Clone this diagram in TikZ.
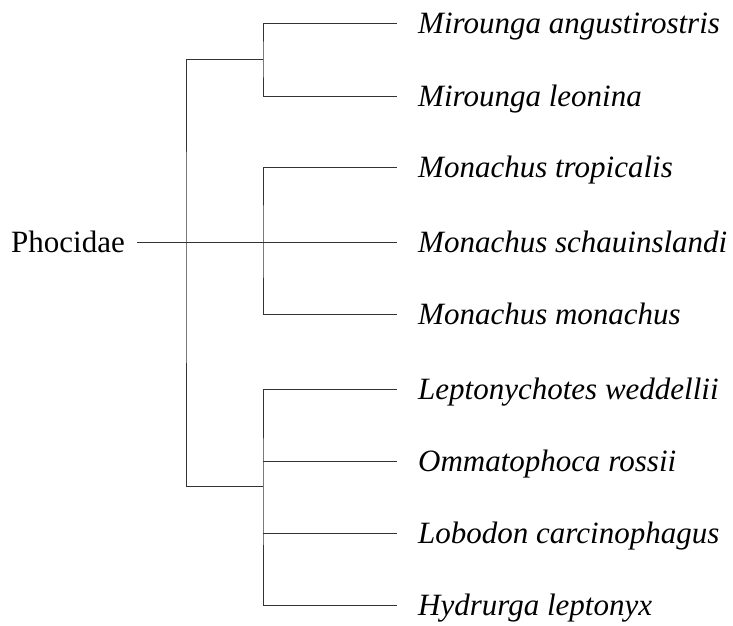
\documentclass[tikz,border=0pt]{standalone}
\usepackage{fontspec}
\setmainfont{Liberation Serif}
\usetikzlibrary{positioning}

\tikzset{
  branch/.style={line width=1pt, black!80},
  taxon/.style={font=\fontsize{31}{33}\selectfont\itshape, inner sep=0pt,
    text height=27.5pt, text depth=7pt},
  family/.style={font=\fontsize{31}{33}\selectfont, inner sep=0pt,
    text height=27.5pt, text depth=7pt},
}

\begin{document}
\begin{tikzpicture}[x=1pt,y=-1pt]

  \useasboundingbox (0,0) rectangle (733,625);

  % 分岐点
  \coordinate (root) at (186,242);
  \coordinate (mir) at (263,59);  % Mirounga
  \coordinate (mon) at (263,242); % Monachus
  \coordinate (lob) at (263,486); % Lobodontini

  % 枝の末端
  \coordinate (base) at (137,242);
  \coordinate (t1) at (397,23);
  \coordinate (t2) at (397,96);
  \coordinate (t3) at (397,167);
  \coordinate (t4) at (397,242);
  \coordinate (t5) at (397,314);
  \coordinate (t6) at (397,389);
  \coordinate (t7) at (397,461);
  \coordinate (t8) at (397,533);
  \coordinate (t9) at (397,605);

  % 科名
  \node[family, left=12pt of base] (phoc) {Phocidae};

  % 種名
  \node[taxon, right=21pt of t1] (s1) {Mirounga angustirostris};
  \node[taxon, right=21pt of t2] (s2) {Mirounga leonina};
  \node[taxon, right=21pt of t3] (s3) {Monachus tropicalis};
  \node[taxon, right=21pt of t4] (s4) {Monachus schauinslandi};
  \node[taxon, right=21pt of t5] (s5) {Monachus monachus};
  \node[taxon, right=21pt of t6] (s6) {Leptonychotes weddellii};
  \node[taxon, right=21pt of t7] (s7) {Ommatophoca rossii};
  \node[taxon, right=21pt of t8] (s8) {Lobodon carcinophagus};
  \node[taxon, right=21pt of t9] (s9) {Hydrurga leptonyx};

  % 枝
  \draw[branch] (base) -- (t4);
  \draw[branch] (mir) -| (root) |- (lob);
  \draw[branch] (t1) -| (mir) |- (t2);
  \draw[branch] (t3) -| (mon) |- (t5);
  \draw[branch] (t6) -| (lob) |- (t9);
  \draw[branch] (lob |- t7) -- (t7);
  \draw[branch] (lob |- t8) -- (t8);

\end{tikzpicture}
\end{document}
